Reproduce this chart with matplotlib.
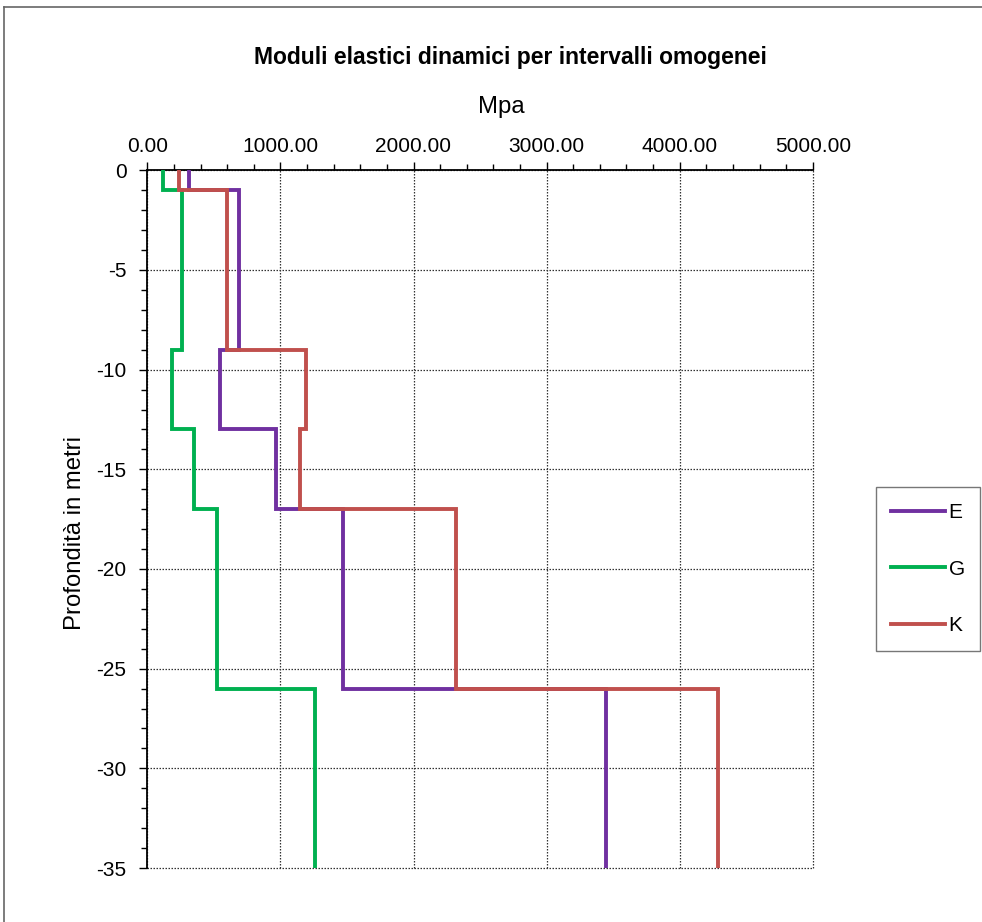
import matplotlib
matplotlib.use("Agg")
import matplotlib.pyplot as plt
from matplotlib.lines import Line2D
from matplotlib.ticker import MultipleLocator, FormatStrFormatter

plt.rcParams['font.family'] = ['Liberation Sans', 'DejaVu Sans']
plt.rcParams['axes.unicode_minus'] = False

# layer boundaries (depth, m) and module values per layer (MPa)
layer_tops = [0, -1, -9, -13, -17, -26]
bottom_depth = -35
E_values = [313, 691, 546, 964, 1471, 3446]
G_values = [120, 263, 188, 351, 526, 1259]
K_values = [236, 601, 1192, 1146, 2323, 4288]

series_names = ['E', 'G', 'K']
series_colors = ['#7030A0', '#00B050', '#C0504D']

W, H = 982, 922
fig = plt.figure(figsize=(W / 100, H / 100), dpi=100)
ax = fig.add_axes([147.3 / W, 1 - 868 / H, (812.8 - 147.3) / W, (868 - 170.3) / H])

bottoms = layer_tops[1:] + [bottom_depth]
for name, vals, col in zip(series_names, [E_values, G_values, K_values], series_colors):
    xs, ys = [], []
    for v, t, b in zip(vals, layer_tops, bottoms):
        xs += [v, v]
        ys += [t, b]
    ax.plot(xs, ys, color=col, lw=2.8, label=name, solid_joinstyle='miter', zorder=3)

ax.set_xlim(0, 5000)
ax.set_ylim(-35, 0)
ax.xaxis.tick_top()
ax.xaxis.set_major_locator(MultipleLocator(1000))
ax.xaxis.set_minor_locator(MultipleLocator(200))
ax.xaxis.set_major_formatter(FormatStrFormatter('%.2f'))
ax.yaxis.set_major_locator(MultipleLocator(5))
ax.yaxis.set_minor_locator(MultipleLocator(1))

ax.tick_params(axis='both', which='major', direction='out', length=6, width=1,
               labelsize=15, colors='black')
ax.tick_params(axis='both', which='minor', direction='out', length=4, width=1)
ax.tick_params(axis='x', which='major', pad=4)
ax.tick_params(axis='y', which='major', pad=9)

for s in ['right', 'bottom']:
    ax.spines[s].set_visible(False)
for s in ['left', 'top']:
    ax.spines[s].set_linewidth(1.3)
    ax.spines[s].set_color('black')

ax.grid(True, which='major', color='#333333', linestyle=(0, (1.2, 1.2)), linewidth=0.9, zorder=0)
ax.set_axisbelow(True)
for ln in ax.get_xgridlines() + ax.get_ygridlines():
    ln.set_clip_on(False)

# axis titles
fig.text(501 / W, 1 - 113.3 / H, 'Mpa', ha='center', va='baseline', fontsize=17.2)
fig.text(81 / W, 1 - 532.5 / H, 'Profondità in metri', ha='center', va='baseline',
         rotation=90, rotation_mode='anchor', fontsize=17.2)

fig.text(510 / W, 1 - 64 / H, 'Moduli elastici dinamici per intervalli omogenei',
         ha='center', va='baseline', fontsize=16.5, fontweight='bold')

leg = fig.legend(loc='center', bbox_to_anchor=(928 / W, 1 - 569 / H),
                 fontsize=15, handlelength=2.6, handletextpad=0.15, labelspacing=1.8,
                 borderpad=0.75, frameon=True, fancybox=False)
leg.get_frame().set_edgecolor('#555555')
leg.get_frame().set_linewidth(1.0)

# outer chart border (left and top visible)
fig.add_artist(Line2D([3.5 / W, 3.5 / W], [0, 1 - 7.5 / H], transform=fig.transFigure,
                      color='#666666', lw=1.2))
fig.add_artist(Line2D([3.5 / W, 1], [1 - 7.5 / H, 1 - 7.5 / H], transform=fig.transFigure,
                      color='#666666', lw=1.2))

fig.savefig('out.png', dpi=100, facecolor='white')
